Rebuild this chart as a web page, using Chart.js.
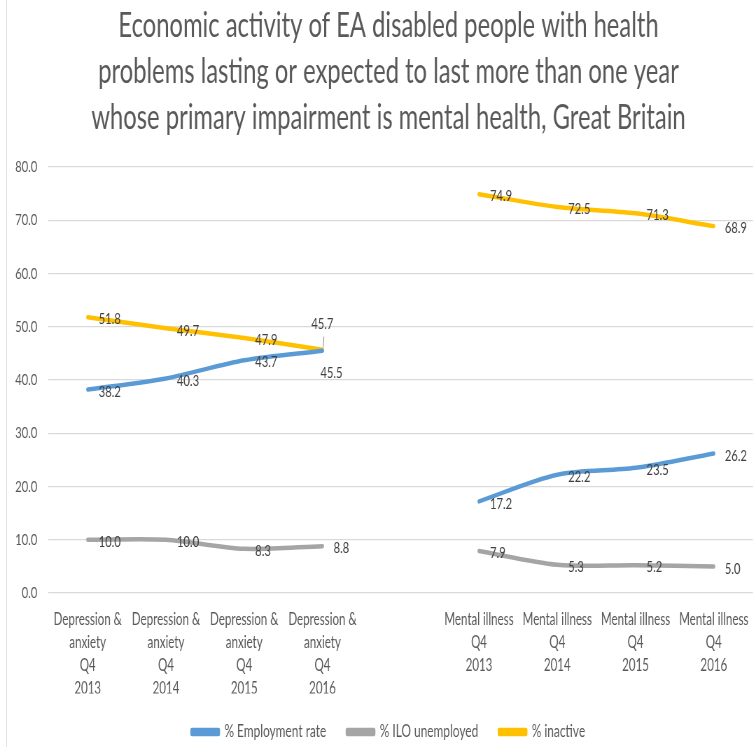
<!DOCTYPE html>
<html>
<head>
<meta charset="utf-8">
<script src="https://cdn.jsdelivr.net/npm/chart.js@4"></script>
<style>
  html, body { margin: 0; padding: 0; background: #ffffff; overflow: hidden; }
  #wrap { position: absolute; left: 0; top: 0; width: 1085px; height: 747px;
          transform: scaleX(0.7); transform-origin: 0 0; }
  #edge { position: absolute; left: 6px; top: 0; width: 1px; height: 747px; background: #e2e2e2; }
</style>
</head>
<body>
<div id="edge"></div>
<div id="wrap"><canvas id="c"></canvas></div>
<script>
const categories = [
  ["Depression &", "anxiety", "Q4", "2013"],
  ["Depression &", "anxiety", "Q4", "2014"],
  ["Depression &", "anxiety", "Q4", "2015"],
  ["Depression &", "anxiety", "Q4", "2016"],
  "",
  ["Mental illness", "Q4", "2013"],
  ["Mental illness", "Q4", "2014"],
  ["Mental illness", "Q4", "2015"],
  ["Mental illness", "Q4", "2016"]
];
const employmentRate = [38.2, 40.3, 43.7, 45.5, null, 17.2, 22.2, 23.5, 26.2];
const iloUnemployed  = [10.0, 10.0, 8.3, 8.8, null, 7.9, 5.3, 5.2, 5.0];
const inactive       = [51.8, 49.7, 47.9, 45.7, null, 74.9, 72.5, 71.3, 68.9];
const seriesNames = ["% Employment rate", "% ILO unemployed", "% inactive"];
const titleLines = [
  "Economic activity of EA disabled people with health",
  "problems lasting or expected to last more than one year",
  "whose primary impairment is mental health, Great Britain"
];

const FONT = "Lato";
const GREY = "#595959";

// data label plugin: draws each value next to its point using the chart's own element positions
const valueLabels = {
  id: "valueLabels",
  afterDatasetsDraw(chart, args, opts) {
    const ctx = chart.ctx;
    ctx.save();
    ctx.font = "16px " + FONT;
    ctx.fillStyle = "#404040";
    ctx.textBaseline = "middle";
    ctx.textAlign = "left";
    chart.data.datasets.forEach((ds, di) => {
      const meta = chart.getDatasetMeta(di);
      meta.data.forEach((pt, i) => {
        const v = ds.data[i];
        if (v === null || v === undefined) return;
        const ov = (opts.overrides[di] || {})[i];
        const dx = ov ? ov.dx : opts.dx;
        const dy = ov ? ov.dy : opts.dy;
        ctx.fillText(v.toFixed(1), pt.x + dx, pt.y + dy);
        if (ov && ov.leader) {
          ctx.strokeStyle = "#8c8c8c";
          ctx.lineWidth = 1;
          ctx.beginPath();
          ctx.moveTo(pt.x + 2, pt.y + ov.leader[0]);
          ctx.lineTo(pt.x + 1, pt.y + ov.leader[1]);
          ctx.stroke();
        }
      });
    });
    ctx.restore();
  }
};

// nudges the title and legend blocks sideways so they are centred like the original
const shiftBlocks = {
  id: "shiftBlocks",
  afterLayout(chart, args, opts) {
    [chart.titleBlock, chart.legend].forEach(b => {
      if (b) { b.left += opts.dx; b.right += opts.dx; }
    });
  }
};

new Chart(document.getElementById("c"), {
  type: "line",
  data: {
    labels: categories,
    datasets: [
      { label: seriesNames[0], data: employmentRate, borderColor: "#5B9BD5", backgroundColor: "#5B9BD5" },
      { label: seriesNames[1], data: iloUnemployed,  borderColor: "#A5A5A5", backgroundColor: "#A5A5A5" },
      { label: seriesNames[2], data: inactive,       borderColor: "#FFC000", backgroundColor: "#FFC000" }
    ]
  },
  options: {
    responsive: true,
    maintainAspectRatio: false,
    animation: false,
    spanGaps: false,
    layout: { padding: { left: 0, right: 3, top: 3, bottom: -3.5 } },
    elements: {
      line: { borderWidth: 4.5, tension: 0.3, borderCapStyle: "round", borderJoinStyle: "round" },
      point: { radius: 0, hoverRadius: 0 }
    },
    scales: {
      x: {
        type: "category",
        offset: true,
        grid: { display: false, drawTicks: false },
        border: { display: false },
        ticks: { color: GREY, font: { family: FONT, size: 16.5, lineHeight: 1.38 }, maxRotation: 0, autoSkip: false, padding: 15.6 },
        afterFit(s) { s.height = 100.5; }
      },
      y: {
        min: 0, max: 80,
        grid: { color: "#d9d9d9", lineWidth: 1.2, drawTicks: false },
        border: { display: false },
        ticks: { stepSize: 10, color: GREY, font: { family: FONT, size: 16 }, padding: 16,
                 callback: v => v.toFixed(1) },
        afterFit(s) { s.width = 69.4; }
      }
    },
    plugins: {
      title: {
        display: true,
        text: titleLines,
        color: GREY,
        font: { family: FONT, size: 34, weight: "normal", lineHeight: 1.353 },
        padding: { top: 0, bottom: 26 }
      },
      legend: {
        position: "bottom",
        labels: { color: GREY, font: { family: FONT, size: 17 }, boxWidth: 38, boxHeight: 4, padding: 30 }
      },
      tooltip: { enabled: false },
      shiftBlocks: { dx: 14 },
      valueLabels: {
        dx: 15.7, dy: 2,
        overrides: {
          0: { 3: { dx: -3, dy: 22 } },
          2: { 3: { dx: -16, dy: -26, leader: [-13, -2] } }
        }
      }
    }
  },
  plugins: [valueLabels, shiftBlocks]
});
</script>
</body>
</html>
